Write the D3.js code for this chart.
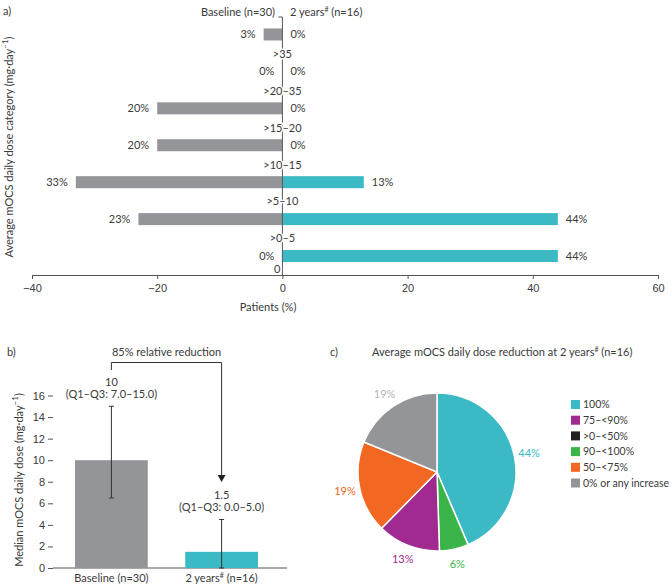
<!DOCTYPE html>
<html>
<head>
  <meta charset="utf-8">
  <style type="text/css">
    body { margin: 0; background: #fff; }
    svg { font-family: Lato, "Noto Sans", sans-serif; font-size: 11px; fill: #3a3a3a; }
    text { fill: #3a3a3a; }
  </style>
</head>
<body>
<svg id='vis' width="671" height="586"></svg>

<script src="https://cdnjs.cloudflare.com/ajax/libs/d3/7.8.5/d3.min.js"></script>
<script type="text/javascript">
  // panel a: dose categories (top to bottom)
  var catLabels = ['>35', '>20\u201335', '>15\u201320', '>10\u201315', '>5\u201310', '>0\u20135', '0']
  var baseline = [3, 0, 20, 20, 33, 23, 0]
  var year2 = [0, 0, 0, 0, 13, 44, 44]
  var xTicksA = [-40, -20, 0, 20, 40, 60]

  // panel b: median dose
  var groups = ['Baseline (n=30)', '2 years (n=16)']
  var medians = [10, 1.5]
  var errLow = [6.5, 0]
  var errHigh = [15, 4.5]
  var medLabels = ['10', '1.5']
  var iqrLabels = ['(Q1\u2013Q3: 7.0\u201315.0)', '(Q1\u2013Q3: 0.0\u20135.0)']
  var yTicksB = [0, 2, 4, 6, 8, 10, 12, 14, 16]

  // panel c: reduction pie (clockwise from top)
  var pieCats = ['100%', '90\u2013<100%', '75\u2013<90%', '50\u2013<75%', '0% or any increase']
  var pieValues = [44, 6, 13, 19, 19]
  var legendCats = ['100%', '75\u2013<90%', '>0\u2013<50%', '90\u2013<100%', '50\u2013<75%', '0% or any increase']

  var color = {
    '100%': '#3bb9c4',
    '75\u2013<90%': '#a02a8f',
    '>0\u2013<50%': '#231f20',
    '90\u2013<100%': '#3bb54a',
    '50\u2013<75%': '#f26822',
    '0% or any increase': '#939598'
  }
  var labelColor = {
    '100%': '#3bb9c4',
    '75\u2013<90%': '#a02a8f',
    '90\u2013<100%': '#3bb54a',
    '50\u2013<75%': '#f26822',
    '0% or any increase': '#b3b5b8'
  }
  var grey = '#939598', teal = '#3bb9c4', axisCol = '#555'

  var svg = d3.select('#vis')

  // ---------- panel a ----------
  var xA = d3.scaleLinear().domain([-40, 60]).range([32, 658])
  var yA = d3.scaleBand().domain(d3.range(catLabels.length)).range([16, 274.5]).paddingInner(0.675).paddingOuter(0.3375)
  var gA = svg.append('g')

  svg.append('text').attr('x', 3).attr('y', 15).text('a)')

  gA.append('g')
    .attr('transform', 'translate(0,275)')
    .call(d3.axisBottom(xA).tickValues(xTicksA).tickSize(4).tickFormat(d3.format('')))
    .call(function(g) {
      g.select('.domain').attr('stroke', axisCol)
      g.selectAll('.tick line').attr('stroke', axisCol)
      g.selectAll('.tick text').attr('font-size', 11).attr('dy', '0.9em').attr('fill', '#3a3a3a')
    })

  gA.append('text').attr('x', 268).attr('y', 311).attr('text-anchor', 'middle').text('Patients (%)')

  var ylA = gA.append('text')
    .attr('transform', 'translate(13,147) rotate(-90)')
    .attr('text-anchor', 'middle')
    .text('Average mOCS daily dose category (mg\u00b7day')
  ylA.append('tspan').attr('baseline-shift', 'super').attr('font-size', 8).text('\u22121')
  ylA.append('tspan').text(')')

  gA.selectAll('.bb').data(baseline).enter().append('rect')
    .attr('x', function(d) { return xA(-d) })
    .attr('y', function(d, i) { return yA(i) })
    .attr('width', function(d) { return xA(0) - xA(-d) })
    .attr('height', yA.bandwidth())
    .attr('fill', grey)

  gA.selectAll('.yb').data(year2).enter().append('rect')
    .attr('x', xA(0))
    .attr('y', function(d, i) { return yA(i) })
    .attr('width', function(d) { return xA(d) - xA(0) })
    .attr('height', yA.bandwidth())
    .attr('fill', teal)

  // centre axis line
  gA.append('line').attr('x1', xA(0)).attr('x2', xA(0)).attr('y1', 17).attr('y2', 275).attr('stroke', axisCol)
  gA.append('line').attr('x1', xA(0) - 4).attr('x2', xA(0)).attr('y1', 17).attr('y2', 17).attr('stroke', axisCol)

  gA.selectAll('.bl').data(baseline).enter().append('text')
    .attr('x', function(d) { return xA(-d) - 8 })
    .attr('y', function(d, i) { return yA(i) + yA.bandwidth() / 2 })
    .attr('dy', '0.35em').attr('text-anchor', 'end')
    .text(function(d) { return d + '%' })

  gA.selectAll('.yl').data(year2).enter().append('text')
    .attr('x', function(d) { return xA(d) + 8 })
    .attr('y', function(d, i) { return yA(i) + yA.bandwidth() / 2 })
    .attr('dy', '0.35em')
    .text(function(d) { return d + '%' })

  // category labels sit on the row boundaries
  gA.selectAll('.cl').data(catLabels).enter().append('text')
    .attr('x', function(d, i) { return i == catLabels.length - 1 ? xA(0) - 2 : xA(0) })
    .attr('y', function(d, i) { return i == catLabels.length - 1 ? 269 : yA(i) + yA.step() * 0.5 + yA.bandwidth() / 2 + 1 })
    .attr('dy', '0.35em')
    .attr('text-anchor', function(d, i) { return i == catLabels.length - 1 ? 'end' : 'middle' })
    .attr('paint-order', 'stroke').attr('stroke', '#fff').attr('stroke-width', 3)
    .text(function(d) { return d })

  gA.append('text').attr('x', 275).attr('y', 16).attr('text-anchor', 'end').text('Baseline (n=30)')
  var h2 = gA.append('text').attr('x', 290).attr('y', 16).text('2 years')
  h2.append('tspan').attr('baseline-shift', 'super').attr('font-size', 7).text('#')
  h2.append('tspan').text(' (n=16)')

  // ---------- panel b ----------
  var yB = d3.scaleLinear().domain([0, 16]).range([568, 395.5])
  var xB = d3.scaleBand().domain(groups).range([53, 280]).paddingInner(0.34).paddingOuter(0.2)
  var gB = svg.append('g')

  svg.append('text').attr('x', 7).attr('y', 356).text('b)')

  gB.append('g')
    .attr('transform', 'translate(53,0)')
    .call(d3.axisLeft(yB).tickValues(yTicksB).tickSize(5))
    .call(function(g) {
      g.select('.domain').remove()
      g.selectAll('.tick line').attr('stroke', axisCol)
      g.selectAll('.tick text').attr('font-size', 11).attr('fill', '#3a3a3a')
    })
  gB.append('line').attr('x1', 53).attr('x2', 287).attr('y1', 568).attr('y2', 568).attr('stroke', axisCol)

  gB.selectAll('.bar').data(medians).enter().append('rect')
    .attr('x', function(d, i) { return xB(groups[i]) })
    .attr('y', function(d) { return yB(d) })
    .attr('width', xB.bandwidth())
    .attr('height', function(d) { return yB(0) - yB(d) })
    .attr('fill', function(d, i) { return i == 0 ? grey : teal })

  groups.forEach(function(g, i) {
    var cx = xB(g) + xB.bandwidth() / 2
    gB.append('line').attr('x1', cx).attr('x2', cx).attr('y1', yB(errLow[i])).attr('y2', yB(errHigh[i])).attr('stroke', '#333')
    gB.append('line').attr('x1', cx - 2.5).attr('x2', cx + 2.5).attr('y1', yB(errHigh[i])).attr('y2', yB(errHigh[i])).attr('stroke', '#333')
    gB.append('line').attr('x1', cx - 2.5).attr('x2', cx + 2.5).attr('y1', yB(errLow[i])).attr('y2', yB(errLow[i])).attr('stroke', '#333')
  })

  var tx0 = xB(groups[0]) + xB.bandwidth() / 2
  var tx1 = xB(groups[1]) + xB.bandwidth() / 2
  gB.append('text').attr('x', tx0).attr('y', 386).attr('text-anchor', 'middle').text(medLabels[0])
  gB.append('text').attr('x', tx0).attr('y', 398).attr('text-anchor', 'middle').text(iqrLabels[0])
  gB.append('text').attr('x', tx1).attr('y', 499).attr('text-anchor', 'middle').text(medLabels[1])
  gB.append('text').attr('x', tx1).attr('y', 511).attr('text-anchor', 'middle').text(iqrLabels[1])

  // bracket with arrow
  gB.append('path')
    .attr('d', 'M' + tx0 + ',370V362.5H' + tx1 + 'V476')
    .attr('fill', 'none').attr('stroke', '#333')
  gB.append('path')
    .attr('d', 'M' + (tx1 - 4) + ',475L' + (tx1 + 4) + ',475L' + tx1 + ',482Z')
    .attr('fill', '#222')
  gB.append('text').attr('x', (tx0 + tx1) / 2).attr('y', 356).attr('text-anchor', 'middle').text('85% relative reduction')

  gB.append('text').attr('x', tx0).attr('y', 582).attr('text-anchor', 'middle').text(groups[0])
  var bl2 = gB.append('text').attr('x', tx1).attr('y', 582).attr('text-anchor', 'middle').text('2 years')
  bl2.append('tspan').attr('baseline-shift', 'super').attr('font-size', 7).text('#')
  bl2.append('tspan').text(' (n=16)')

  var yl = gB.append('text')
    .attr('transform', 'translate(23,480) rotate(-90)')
    .attr('text-anchor', 'middle')
    .text('Median mOCS daily dose (mg\u00b7day')
  yl.append('tspan').attr('baseline-shift', 'super').attr('font-size', 8).text('\u22121')
  yl.append('tspan').text(')')

  // ---------- panel c ----------
  var gC = svg.append('g')
  gC.append('text').attr('x', 330).attr('y', 356).text('c)')
  var tc = gC.append('text').attr('x', 372).attr('y', 356).text('Average mOCS daily dose reduction at 2 years')
  tc.append('tspan').attr('baseline-shift', 'super').attr('font-size', 7).text('#')
  tc.append('tspan').text(' (n=16)')

  var pie = d3.pie().sort(null).value(function(d) { return d })
  var arcs = pie(pieValues)
  var arc = d3.arc().innerRadius(0).outerRadius(79)
  var lblArc = d3.arc().innerRadius(94).outerRadius(94)
  var pc = gC.append('g').attr('transform', 'translate(437,472)')

  pc.selectAll('path').data(arcs).enter().append('path')
    .attr('d', arc)
    .attr('fill', function(d, i) { return color[pieCats[i]] })
    .attr('stroke', '#fff').attr('stroke-width', 1.5)

  pc.selectAll('text').data(arcs).enter().append('text')
    .attr('transform', function(d) { return 'translate(' + lblArc.centroid(d) + ')' })
    .attr('text-anchor', 'middle').attr('dy', '0.35em')
    .style('fill', function(d, i) { return labelColor[pieCats[i]] })
    .text(function(d) { return d.data + '%' })

  var lg = gC.selectAll('.lg').data(legendCats).enter().append('g')
    .attr('transform', function(d, i) { return 'translate(571,' + (400 + i * 15.7) + ')' })
  lg.append('rect').attr('width', 9).attr('height', 9).attr('fill', function(d) { return color[d] })
  lg.append('text').attr('x', 12).attr('y', 4.5).attr('dy', '0.35em').attr('font-size', 10.5).text(function(d) { return d })
</script>
</body>
</html>
